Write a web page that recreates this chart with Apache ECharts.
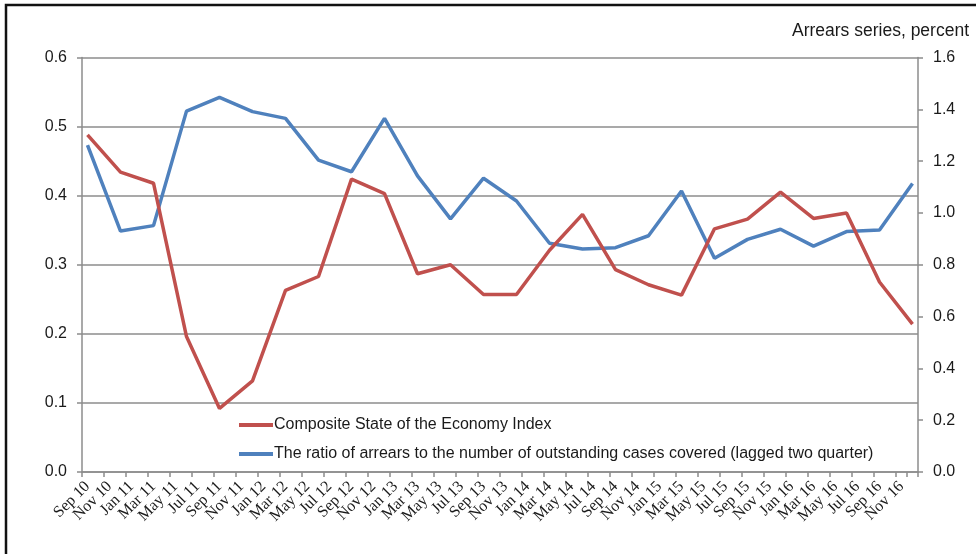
<!DOCTYPE html>
<html>
<head>
<meta charset="utf-8">
<script src="https://cdn.jsdelivr.net/npm/echarts@6/dist/echarts.min.js"></script>
<style>
  html, body { margin: 0; padding: 0; background: #fff; }
  #chart { width: 976px; height: 554px; }
</style>
</head>
<body>
<div id="chart"></div>
<script>
// Bi-monthly axis labels; each label covers two monthly slots (Sep 10 .. Dec 16)
const tickLabels = [
  'Sep 10','Nov 10','Jan 11','Mar 11','May 11','Jul 11','Sep 11','Nov 11',
  'Jan 12','Mar 12','May 12','Jul 12','Sep 12','Nov 12','Jan 13','Mar 13',
  'May 13','Jul 13','Sep 13','Nov 13','Jan 14','Mar 14','May 14','Jul 14',
  'Sep 14','Nov 14','Jan 15','Mar 15','May 15','Jul 15','Sep 15','Nov 15',
  'Jan 16','Mar 16','May 16','Jul 16','Sep 16','Nov 16'
];

// Quarterly observations, first one in Sep 10, then every three months
const quarters = [
  'Sep 10','Dec 10','Mar 11','Jun 11','Sep 11','Dec 11','Mar 12','Jun 12','Sep 12',
  'Dec 12','Mar 13','Jun 13','Sep 13','Dec 13','Mar 14','Jun 14','Sep 14','Dec 14',
  'Mar 15','Jun 15','Sep 15','Dec 15','Mar 16','Jun 16','Sep 16','Dec 16'
];

// Composite State of the Economy Index (left axis)
const economyIndex = [
  0.488, 0.434, 0.418, 0.196, 0.092, 0.132, 0.263, 0.283, 0.424,
  0.403, 0.287, 0.300, 0.257, 0.257, 0.321, 0.373, 0.293, 0.271,
  0.256, 0.352, 0.366, 0.405, 0.367, 0.375, 0.275, 0.214
];

// Arrears ratio, lagged two quarters (right axis, percent)
const arrearsRatio = [
  1.262, 0.930, 0.951, 1.393, 1.446, 1.391, 1.365, 1.204, 1.159,
  1.365, 1.143, 0.977, 1.134, 1.046, 0.883, 0.861, 0.866, 0.912,
  1.085, 0.825, 0.898, 0.937, 0.872, 0.928, 0.934, 1.114
];

// Monthly slots: each tick label followed by the unlabeled month after it
const months = [];
tickLabels.forEach(function (l) { months.push(l); months.push(''); });

const monthsPerQuarter = 3;
const toPoints = function (vals) {
  return vals.map(function (v, i) { return [i * monthsPerQuarter, v]; });
};

const FONT = 'Liberation Sans, Arial, sans-serif';
const SERIF = 'Liberation Serif, Times New Roman, serif';
const TXT = '#1a1a1a';

const chart = echarts.init(document.getElementById('chart'));
chart.setOption({
  animation: false,
  backgroundColor: '#fff',
  textStyle: { fontFamily: FONT, color: TXT },
  grid: { left: 82, right: 58, top: 57.5, bottom: 82, containLabel: false },
  graphic: [{
    type: 'rect',
    shape: { x: 6, y: 5, width: 1100, height: 700 },
    style: { fill: 'none', stroke: '#111', lineWidth: 2.5 },
    silent: true
  }],
  title: {
    text: 'Arrears series, percent',
    right: 2, top: 17,
    textStyle: { fontFamily: FONT, fontSize: 17.5, fontWeight: 'normal', color: TXT }
  },
  legend: {
    orient: 'vertical',
    left: 234, top: 412,
    itemWidth: 34, itemHeight: 4, itemGap: 13,
    icon: 'rect',
    textStyle: { fontFamily: FONT, fontSize: 16, color: TXT, padding: [0, 0, 0, -4] },
    data: ['Composite State of the Economy Index',
           'The ratio of arrears to the number of outstanding cases covered (lagged two quarter)']
  },
  xAxis: {
    type: 'category',
    data: months,
    boundaryGap: true,
    axisLine: { lineStyle: { color: '#8c8c8c', width: 1.5 } },
    axisTick: { show: true, interval: 1, length: 5, lineStyle: { color: '#8c8c8c', width: 1.5 } },
    axisLabel: {
      interval: 0, rotate: 45, margin: 12,
      showMinLabel: true, showMaxLabel: true, hideOverlap: false,
      fontFamily: SERIF, fontSize: 16, color: TXT
    },
    splitLine: { show: false }
  },
  yAxis: [{
    type: 'value', min: 0, max: 0.6, interval: 0.1,
    axisLine: { show: true, lineStyle: { color: '#8c8c8c', width: 1.5 } },
    axisTick: { show: true, length: 5, lineStyle: { color: '#8c8c8c', width: 1.5 } },
    axisLabel: {
      margin: 15, fontFamily: FONT, fontSize: 16, color: TXT,
      formatter: function (v) { return v.toFixed(1); }
    },
    splitLine: { show: true, lineStyle: { color: '#8c8c8c', width: 1.5 } }
  }, {
    type: 'value', min: 0, max: 1.6, interval: 0.2, position: 'right',
    axisLine: { show: true, lineStyle: { color: '#8c8c8c', width: 1.5 } },
    axisTick: { show: true, length: 5, lineStyle: { color: '#8c8c8c', width: 1.5 } },
    axisLabel: {
      margin: 15, fontFamily: FONT, fontSize: 16, color: TXT,
      formatter: function (v) { return v.toFixed(1); }
    },
    splitLine: { show: false }
  }],
  series: [{
    name: 'Composite State of the Economy Index',
    type: 'line',
    yAxisIndex: 0,
    data: toPoints(economyIndex),
    symbol: 'none',
    lineStyle: { color: '#C0504D', width: 3.5 },
    itemStyle: { color: '#C0504D' },
    z: 3
  }, {
    name: 'The ratio of arrears to the number of outstanding cases covered (lagged two quarter)',
    type: 'line',
    yAxisIndex: 1,
    data: toPoints(arrearsRatio),
    symbol: 'none',
    lineStyle: { color: '#4F81BD', width: 3.5 },
    itemStyle: { color: '#4F81BD' },
    z: 2
  }]
});
</script>
</body>
</html>
